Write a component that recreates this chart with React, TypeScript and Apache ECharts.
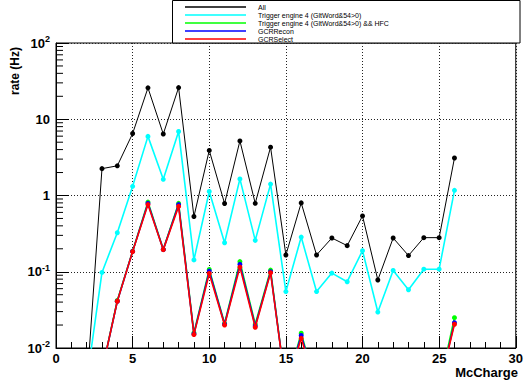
import React, { useEffect, useRef } from "react";
import * as echarts from "echarts";

// McCharge bins
const xValues = [2, 3, 4, 5, 6, 7, 8, 9, 10, 11, 12, 13, 14, 15, 16, 17, 18, 19, 20, 21, 22, 23, 24, 25, 26];

// rates (Hz); values below the plotted range (empty bins) are drawn off-frame
const allRate = [0.003, 2.25, 2.45, 6.5, 25.8, 6.4, 26, 0.53, 3.9, 0.785, 5.2, 0.79, 4.3, 0.166, 0.8, 0.166, 0.277, 0.22, 0.54, 0.078, 0.277, 0.163, 0.28, 0.28, 3.1];
const trigRate = [0.0036, 0.098, 0.325, 1.32, 5.96, 1.63, 6.9, 0.143, 1.13, 0.24, 1.65, 0.258, 1.41, 0.055, 0.285, 0.055, 0.096, 0.074, 0.189, 0.0296, 0.104, 0.058, 0.108, 0.108, 1.17];
const trigHfcRate = [0.003, 0.005, 0.042, 0.186, 0.82, 0.197, 0.79, 0.0158, 0.107, 0.021, 0.136, 0.0205, 0.105, 0.003, 0.0156, 0.003, 0.003, 0.003, 0.003, 0.003, 0.003, 0.003, 0.003, 0.003, 0.025];
const gcrReconRate = [0.003, 0.005, 0.041, 0.185, 0.79, 0.196, 0.76, 0.0153, 0.102, 0.0205, 0.125, 0.0195, 0.1, 0.003, 0.0146, 0.003, 0.003, 0.003, 0.003, 0.003, 0.003, 0.003, 0.003, 0.003, 0.0215];
const gcrSelectRate = [0.003, 0.005, 0.041, 0.184, 0.76, 0.195, 0.72, 0.015, 0.095, 0.02, 0.115, 0.0187, 0.097, 0.003, 0.0134, 0.003, 0.003, 0.003, 0.003, 0.003, 0.003, 0.003, 0.003, 0.003, 0.0205];

const seriesNames = [
  "All",
  "Trigger engine 4 (GltWord&54>0)",
  "Trigger engine 4 (GltWord&54>0) && HFC",
  "GCRRecon",
  "GCRSelect",
];
const seriesColors = ["#000000", "#00ffff", "#00ff00", "#0000ff", "#ff0000"];
const seriesValues = [allRate, trigRate, trigHfcRate, gcrReconRate, gcrSelectRate];

// log-axis minor tick values (2..9 x 10^k)
const minorTickValues = [
  0.02, 0.03, 0.04, 0.05, 0.06, 0.07, 0.08, 0.09,
  0.2, 0.3, 0.4, 0.5, 0.6, 0.7, 0.8, 0.9,
  2, 3, 4, 5, 6, 7, 8, 9,
  20, 30, 40, 50, 60, 70, 80, 90,
];

const FONT = "'Liberation Sans', Arial, Helvetica, sans-serif";

export default function App() {
  const ref = useRef<HTMLDivElement>(null);

  useEffect(() => {
    if (!ref.current) return;
    const chart = echarts.init(ref.current, null, { renderer: "svg" });

    const lineSeries = seriesNames.map((name, i) => ({
      type: "line",
      name,
      data: xValues.map((x, j) => [x, seriesValues[i][j]]),
      symbol: "circle",
      symbolSize: 5,
      showSymbol: true,
      clip: true,
      lineStyle: { color: seriesColors[i], width: i === 0 ? 1 : 1.6 },
      itemStyle: { color: seriesColors[i] },
      z: 3 + i,
    }));

    const supLabel = (v: number) => {
      if (Math.abs(v - 100) < 1e-9) return "{b|10}{s|2}";
      if (Math.abs(v - 10) < 1e-9) return "{b|10}";
      if (Math.abs(v - 1) < 1e-9) return "{b|1}";
      if (Math.abs(v - 0.1) < 1e-9) return "{b|10}{s|-1}";
      if (Math.abs(v - 0.01) < 1e-9) return "{b|10}{s|-2}";
      return "";
    };

    chart.setOption({
      animation: false,
      backgroundColor: "#ffffff",
      grid: {
        left: 56,
        top: 43,
        width: 464,
        height: 305,
        show: true,
        borderColor: "#000",
        borderWidth: 1,
        backgroundColor: "transparent",
      },
      legend: {
        data: seriesNames,
        orient: "vertical",
        left: 185,
        top: 3,
        itemGap: 0,
        itemWidth: 61,
        itemHeight: 1.5,
        icon: "rect",
        padding: 0,
        selectedMode: false,
        z: 20,
        textStyle: {
          fontSize: 7,
          lineHeight: 8,
          fontFamily: FONT,
          color: "#000",
          padding: [0, 0, 0, 7],
        },
      },
      xAxis: {
        type: "value",
        min: 0,
        max: 30,
        interval: 5,
        axisLine: { show: true, lineStyle: { color: "#000", width: 1 } },
        axisTick: { show: true, inside: true, length: 12, lineStyle: { color: "#000" } },
        minorTick: { show: true, splitNumber: 5, length: 6, lineStyle: { color: "#000" } },
        splitLine: { show: true, lineStyle: { color: "#222", type: [1, 2], width: 1 } },
        axisLabel: {
          margin: 4,
          fontSize: 13,
          fontWeight: "bold",
          fontFamily: FONT,
          color: "#000",
          showMinLabel: true,
          showMaxLabel: true,
        },
      },
      yAxis: {
        type: "log",
        logBase: 10,
        min: 0.01,
        max: 100,
        axisLine: { show: true, lineStyle: { color: "#000", width: 1 } },
        axisTick: { show: true, inside: true, length: 13, lineStyle: { color: "#000" } },
        splitLine: { show: true, lineStyle: { color: "#222", type: [1, 2], width: 1 } },
        axisLabel: {
          margin: 6,
          formatter: (v: number) => supLabel(v),
          rich: {
            b: { fontSize: 13, fontWeight: "bold", fontFamily: FONT, color: "#000" },
            s: { fontSize: 9, fontWeight: "bold", fontFamily: FONT, color: "#000", padding: [0, 0, 8, 0] },
          },
        },
      },
      graphic: [
        {
          type: "rect",
          z: 0,
          shape: { x: 172.5, y: 0.5, width: 347.5, height: 42.5 },
          style: { fill: "#fff", stroke: "#000", lineWidth: 1 },
        },
        {
          type: "text",
          x: 15,
          y: 71,
          rotation: Math.PI / 2,
          style: {
            text: "rate (Hz)",
            fontSize: 12,
            fontWeight: "bold",
            fontFamily: FONT,
            fill: "#000",
            align: "center",
            verticalAlign: "middle",
          },
        },
        {
          type: "text",
          x: 518,
          y: 372,
          style: {
            text: "McCharge",
            fontSize: 13,
            fontWeight: "bold",
            fontFamily: FONT,
            fill: "#000",
            align: "right",
            verticalAlign: "middle",
          },
        },
      ],
      series: [
        ...lineSeries,
        {
          type: "custom",
          name: "minorTicks",
          silent: true,
          clip: false,
          z: 10,
          data: minorTickValues.map((v) => [0, v]),
          encode: { x: 0, y: 1 },
          renderItem: (_params: any, api: any) => {
            const p = api.coord([0, api.value(1)]);
            return {
              type: "line",
              shape: { x1: p[0], y1: p[1], x2: p[0] + 7, y2: p[1] },
              style: { stroke: "#000", lineWidth: 1 },
            };
          },
        },
      ],
    });

    return () => chart.dispose();
  }, []);

  return (
    <div
      ref={ref}
      style={{ position: "fixed", left: 0, top: 0, width: 526, height: 381, background: "#fff" }}
    />
  );
}
